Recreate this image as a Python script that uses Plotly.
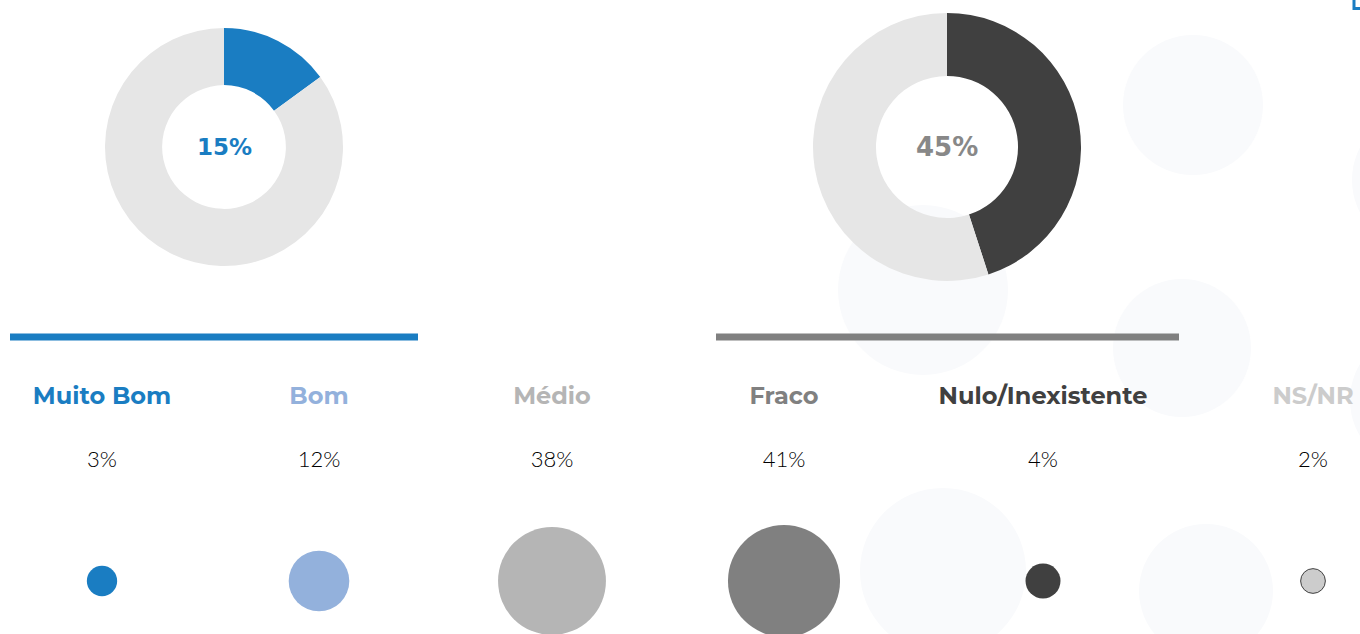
import plotly.graph_objects as go

# ---- data ----
categories = ["Muito Bom", "Bom", "Médio", "Fraco", "Nulo/Inexistente", "NS/NR"]
values = [3, 12, 38, 41, 4, 2]
value_labels = ["3%", "12%", "38%", "41%", "4%", "2%"]
donut_positive = [15, 85]   # Muito Bom + Bom
donut_negative = [45, 55]   # Fraco + Nulo/Inexistente
donut_positive_label = "15%"
donut_negative_label = "45%"

# ---- layout / style (not data) ----
W, H = 1360, 634
x_pos = [102, 319, 552, 784, 1043, 1313]
cat_colors = ["#1a7dc2", "#93b1dc", "#b5b5b5", "#808080", "#404040", "#cccccc"]
bubble_lines = ["rgba(0,0,0,0)"] * 5 + ["#404040"]
bubble_line_w = [0, 0, 0, 0, 0, 1]
y_label, y_pct, y_bubble = 398, 461, 581
bg_color = "#f9fafc"
bg_circles = [(1193, 105, 70), (1182, 348, 69), (1422, 180, 70), (1420, 400, 70),
              (923, 290, 85), (943, 571, 83), (1206, 591, 67)]

def pdom(cx, cy, r):
    return dict(x=[(cx - r) / W, (cx + r) / W], y=[(H - cy - r) / H, (H - cy + r) / H])

fig = go.Figure()

fig.add_trace(go.Pie(
    values=donut_positive, hole=0.52, sort=False, direction="clockwise", rotation=0,
    marker=dict(colors=["#1a7dc2", "#e6e6e6"], line=dict(width=0)),
    textinfo="none", hoverinfo="skip", showlegend=False, domain=pdom(224, 147, 119)))
fig.add_trace(go.Pie(
    values=donut_negative, hole=0.53, sort=False, direction="clockwise", rotation=0,
    marker=dict(colors=["#404040", "#e6e6e6"], line=dict(width=0)),
    textinfo="none", hoverinfo="skip", showlegend=False, domain=pdom(947, 147, 134)))

# bubbles
fig.add_trace(go.Scatter(
    x=x_pos, y=[y_bubble] * len(values), mode="markers",
    marker=dict(size=values, sizemode="area", sizeref=1 / (2 * 8.75 ** 2),
                color=cat_colors, opacity=1,
                line=dict(color=bubble_lines, width=bubble_line_w)),
    hoverinfo="skip", showlegend=False, cliponaxis=False))

# category labels
fig.add_trace(go.Scatter(
    x=x_pos, y=[y_label] * len(categories), mode="text", text=categories,
    textposition="middle center",
    textfont=dict(family="Montserrat, Open Sans, sans-serif", size=24, color=cat_colors, weight=700),
    hoverinfo="skip", showlegend=False, cliponaxis=False))

# percentages
fig.add_trace(go.Scatter(
    x=x_pos, y=[y_pct] * len(value_labels), mode="text", text=value_labels,
    textposition="middle center",
    textfont=dict(family="Lato, sans-serif", size=22, color="#000000", weight=300),
    hoverinfo="skip", showlegend=False, cliponaxis=False))

shapes = []
for cx, cy, r in bg_circles:
    shapes.append(dict(type="circle", xref="x", yref="y", x0=cx - r, x1=cx + r, y0=cy - r, y1=cy + r,
                       fillcolor=bg_color, line=dict(width=0), layer="below"))
shapes.append(dict(type="line", xref="x", yref="y", x0=10, x1=418, y0=337, y1=337,
                   line=dict(color="#1a7dc2", width=7)))
shapes.append(dict(type="line", xref="x", yref="y", x0=716, x1=1179, y0=337, y1=337,
                   line=dict(color="#808080", width=7)))
shapes.append(dict(type="rect", xref="x", yref="y", x0=1354, x1=1380, y0=-12, y1=8.5,
                   line=dict(color="#1a7dc2", width=3)))

annotations = [
    dict(x=224, y=147, xref="x", yref="y", text=donut_positive_label, showarrow=False,
         font=dict(family="DejaVu Sans", size=23, color="#1a7dc2", weight=700)),
    dict(x=947, y=147, xref="x", yref="y", text=donut_negative_label, showarrow=False,
         font=dict(family="DejaVu Sans", size=26, color="#888888", weight=700)),
]

fig.update_layout(
    width=W, height=H, margin=dict(l=0, r=0, t=0, b=0),
    paper_bgcolor="white", plot_bgcolor="white",
    xaxis=dict(range=[0, W], visible=False, fixedrange=True),
    yaxis=dict(range=[H, 0], visible=False, fixedrange=True),
    shapes=shapes, annotations=annotations, showlegend=False,
)

fig.write_html("out.html", config={"displayModeBar": False},
               post_script="document.body.style.margin='0';document.body.style.overflow='hidden';")
